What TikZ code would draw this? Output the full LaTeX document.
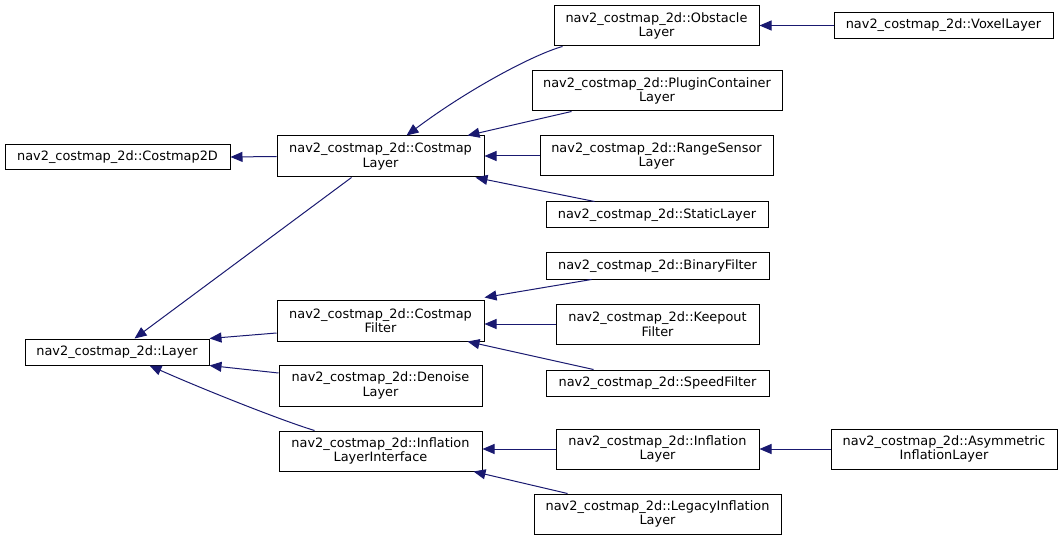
\documentclass[tikz,border=0pt]{standalone}
\usepackage{fontspec}
\setmainfont{DejaVu Sans}
\usetikzlibrary{arrows.meta}
\definecolor{edgeblue}{HTML}{191970}
\begin{document}
\begin{tikzpicture}[x=1pt,y=-1pt,
  box/.style={draw=black,line width=1pt,fill=white,inner sep=0pt,align=center,
    font=\fontsize{12.9}{14.5}\selectfont},
  edge/.style={draw=edgeblue,line width=1pt,-{Triangle[length=12pt,width=10pt]}}]
\useasboundingbox (0,0) rectangle (1063,540);
% nodes
\node[box,minimum width=225pt,minimum height=25pt] (cm2d) at (117.5,157) {nav2\_costmap\_2d::Costmap2D};
\node[box,minimum width=207pt,minimum height=41pt] (cml) at (380.5,156.5) {nav2\_costmap\_2d::Costmap\\Layer};
\node[box,minimum width=205pt,minimum height=40pt] (obst) at (656.5,26) {nav2\_costmap\_2d::Obstacle\\Layer};
\node[box,minimum width=250pt,minimum height=40pt] (plug) at (657,91) {nav2\_costmap\_2d::PluginContainer\\Layer};
\node[box,minimum width=233pt,minimum height=40pt] (range) at (656.5,156) {nav2\_costmap\_2d::RangeSensor\\Layer};
\node[box,minimum width=222pt,minimum height=26pt] (static) at (657,215) {nav2\_costmap\_2d::StaticLayer};
\node[box,minimum width=219pt,minimum height=26pt] (voxel) at (943.5,25.5) {nav2\_costmap\_2d::VoxelLayer};
\node[box,minimum width=184pt,minimum height=26pt] (layer) at (117,352) {nav2\_costmap\_2d::Layer};
\node[box,minimum width=207pt,minimum height=41pt] (cmf) at (380.5,320.5) {nav2\_costmap\_2d::Costmap\\Filter};
\node[box,minimum width=203pt,minimum height=41pt] (denoise) at (380.5,385.5) {nav2\_costmap\_2d::Denoise\\Layer};
\node[box,minimum width=203pt,minimum height=40pt] (infli) at (380.5,451) {nav2\_costmap\_2d::Inflation\\LayerInterface};
\node[box,minimum width=223pt,minimum height=26pt] (binary) at (657.5,266) {nav2\_costmap\_2d::BinaryFilter};
\node[box,minimum width=203pt,minimum height=40pt] (keep) at (657.5,324) {nav2\_costmap\_2d::Keepout\\Filter};
\node[box,minimum width=223pt,minimum height=26pt] (speed) at (657.5,383) {nav2\_costmap\_2d::SpeedFilter};
\node[box,minimum width=203pt,minimum height=40pt] (infl) at (657.5,449) {nav2\_costmap\_2d::Inflation\\Layer};
\node[box,minimum width=247pt,minimum height=40pt] (legacy) at (657.5,514) {nav2\_costmap\_2d::LegacyInflation\\Layer};
\node[box,minimum width=226pt,minimum height=40pt] (asym) at (944,449) {nav2\_costmap\_2d::Asymmetric\\InflationLayer};
% edges
\draw[edge] (cml.west) -- (cm2d.east);
\draw[edge] ([xshift=9pt]obst.south west) .. controls (535,54) and (470,88) .. ([xshift=130pt]cml.north west);
\draw[edge] ([xshift=40pt]plug.south west) -- ([xshift=-17pt]cml.north east);
\draw[edge] (range.west) -- (range.west -| cml.east);
\draw[edge] ([xshift=49pt]static.north west) -- ([xshift=-9pt]cml.south east);
\draw[edge] (voxel.west) -- (voxel.west -| obst.east);
\draw[edge] ([xshift=75pt]cml.south west) -- ([xshift=110pt]layer.north west);
\draw[edge] ([yshift=-12.5pt]cmf.west) -- (layer.north east);
\draw[edge] ([yshift=12.5pt]denoise.west) -- (layer.south east);
\draw[edge] ([xshift=36pt]infli.north west) .. controls (280,420) and (200,388) .. ([xshift=125pt]layer.south west);
\draw[edge] ([xshift=46pt]binary.south west) -- ([yshift=2pt]cmf.north east);
\draw[edge] (keep.west) -- (keep.west -| cmf.east);
\draw[edge] ([xshift=48pt]speed.north west) -- ([xshift=-17pt]cmf.south east);
\draw[edge] (infl.west) -- (infl.west -| infli.east);
\draw[edge] ([xshift=34pt]legacy.north west) -- ([xshift=-9pt]infli.south east);
\draw[edge] (asym.west) -- (asym.west -| infl.east);
\end{tikzpicture}
\end{document}
